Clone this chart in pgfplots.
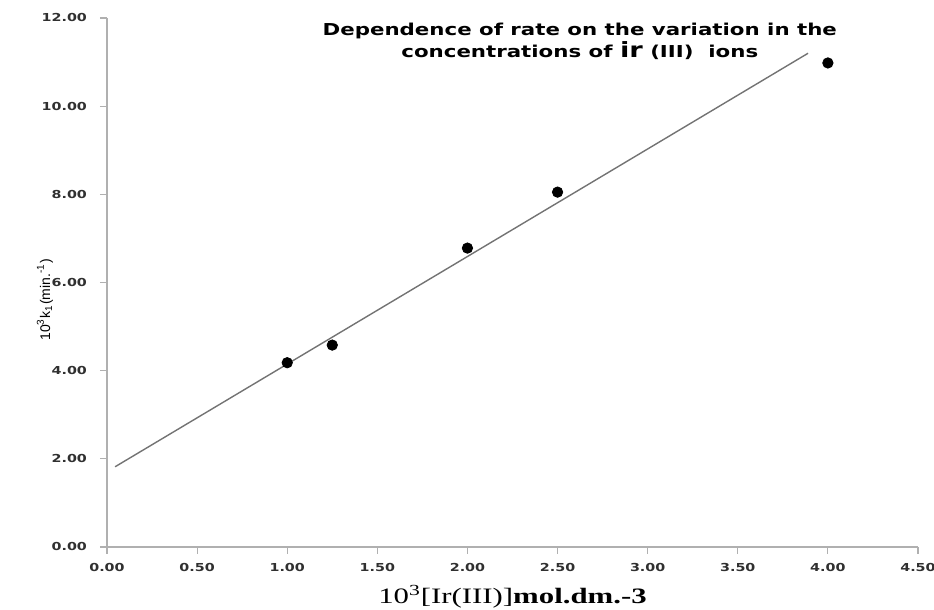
\documentclass[border=0pt]{standalone}
\usepackage{fontspec}
\usepackage{pgfplots}
\pgfplotsset{compat=1.18}
\newfontfamily\wide[FakeStretch=1.3]{DejaVu Sans}
\newfontfamily\ysans{Liberation Sans}
\newfontfamily\wserif[FakeStretch=1.4]{Liberation Serif}
\definecolor{axgray}{HTML}{B0B0B0}
\definecolor{lblgray}{HTML}{303030}
\begin{document}
\begin{tikzpicture}
\useasboundingbox (-53.5pt,-31.5pt) rectangle (413.5pt,273.5pt);
\begin{axis}[
  at={(0,0)}, anchor=south west,
  scale only axis, width=405.5pt, height=264.5pt,
  xmin=0, xmax=4.5, ymin=0, ymax=12,
  axis lines=left,
  axis line style={axgray, line width=0.8pt, -},
  xtick={0,0.5,...,4.5},
  ytick={0,2,...,12},
  tick align=outside,
  major tick length=3.5pt,
  tick style={axgray, line width=0.6pt},
  /pgf/number format/.cd, fixed, fixed zerofill, precision=2, assume math mode=true,
  /pgfplots/.cd,
  tick label style={font=\wide\bfseries\fontsize{5.5}{6}\selectfont, text=lblgray},
  yticklabel style={xshift=-3pt},
  xticklabel style={yshift=-1pt},
  xlabel={\wserif\fontsize{11}{13}\selectfont 10\textsuperscript{3}[Ir(III)]\textbf{mol.dm.-3}},
  xlabel style={at={(axis description cs:0.5,0)}, anchor=center, yshift=-25pt},
  ylabel={\ysans\fontsize{7}{8}\selectfont 10\textsuperscript{3}k\textsubscript{1}(min.\textsuperscript{-1})},
  ylabel style={at={(axis description cs:-0.0765,0.467)}, anchor=center},
  clip=false,
]
\addplot[gray!90!black, line width=0.7pt] coordinates {(0.045,1.82) (3.89,11.2)};
\addplot[only marks, mark=*, mark size=2.6pt, black] coordinates {
  (1.00,4.18) (1.25,4.58) (2.00,6.78) (2.50,8.05) (4.00,10.98)};
\node[align=center, font=\wide\bfseries\fontsize{8.2}{11}\selectfont, text=black]
  at (axis description cs:0.583,0.955)
  {Dependence of rate on the variation in the\\concentrations of {\fontsize{10.5}{11}\selectfont ir} (III)\ \ ions};
\end{axis}
\end{tikzpicture}
\end{document}
